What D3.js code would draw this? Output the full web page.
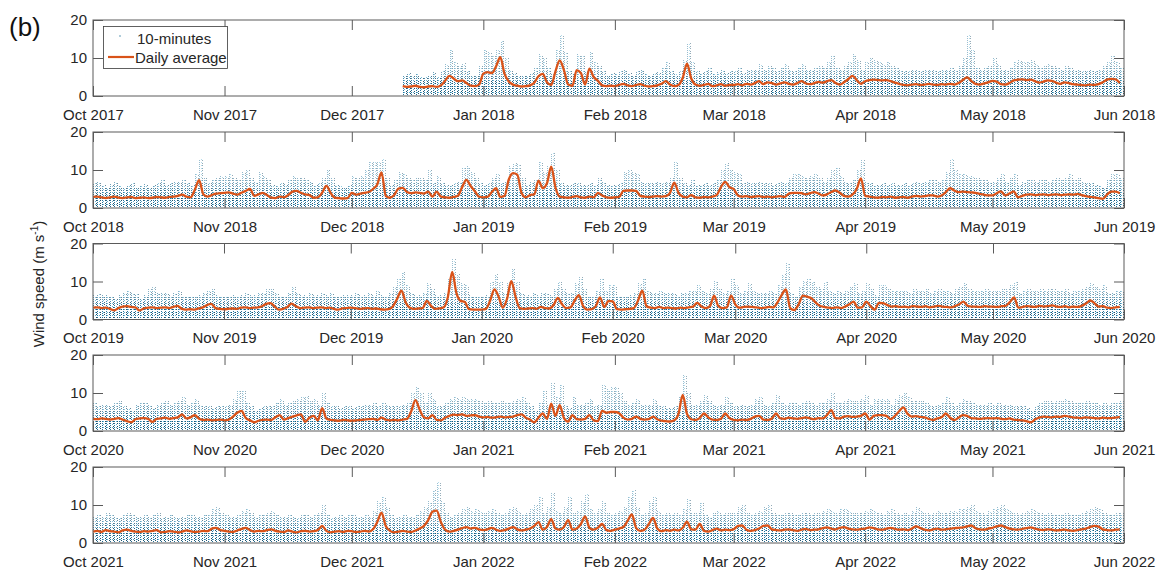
<!DOCTYPE html>
<html>
<head>
<meta charset="utf-8">
<script src="https://cdn.jsdelivr.net/npm/d3@7"></script>
<style>
  body { margin: 0; background: #fff; }
  text { font-family: Arial, "Liberation Sans", sans-serif; fill: #262626; }
</style>
</head>
<body>
<svg id="chart" width="1162" height="571"></svg>
<script>
// Wind speed, Oct–May seasons 2017/18 … 2021/22.
// Daily mean (m/s) and highest 10-minute value of each day (m/s).

const seasonFrom = ["2017-10-01", "2018-10-01", "2019-10-01", "2020-10-01", "2021-10-01"];
const seasonTo   = ["2018-06-01", "2019-06-01", "2020-06-01", "2021-06-01", "2022-06-01"];
const dataFrom   = ["2017-12-13", "2018-10-01", "2019-10-01", "2020-10-01", "2021-10-01"];
const yTicks = [0, 10, 20];

const avg2017 = [
  // Dec 13–31
  2.6,2.4,2.5,2.7,2.4,2.3,2.5,2.6,2.4,2.8,4.0,5.3,4.6,3.9,4.1,3.4,2.7,2.6,3.0,
  // Jan
  5.9,6.3,6.0,7.8,10.2,5.8,3.8,3.0,2.7,2.5,2.6,2.8,3.5,5.2,5.8,3.6,2.9,6.5,9.4,6.8,3.0,2.7,6.8,6.0,3.0,7.2,5.0,4.0,2.8,2.6,2.7,
  // Feb
  2.6,2.9,3.2,2.8,2.6,2.9,3.1,2.7,2.5,2.6,2.8,3.2,3.9,3.0,2.6,2.9,4.8,8.5,4.6,3.0,2.7,2.9,3.2,2.6,2.8,3.1,2.7,2.9,
  // Mar
  2.9,3.1,2.8,3.2,3.0,3.4,3.9,3.1,3.6,3.4,3.0,3.3,3.6,3.2,3.0,3.4,3.9,3.3,3.1,3.4,3.7,3.5,3.9,4.2,3.4,3.0,3.6,4.4,5.3,4.2,3.2,
  // Apr
  3.9,4.2,4.3,4.2,4.1,4.2,3.9,3.5,3.2,2.9,2.8,3.0,3.1,2.9,3.0,3.2,3.0,2.9,3.1,3.0,3.2,3.0,3.4,4.2,4.9,4.0,3.2,3.0,3.3,3.6,
  // May
  4.0,3.8,3.1,3.0,3.4,4.1,4.3,4.4,4.2,4.3,3.9,3.5,3.8,4.1,4.0,3.5,3.2,3.6,3.4,3.1,3.0,2.9,2.8,3.0,2.9,3.1,3.6,4.3,4.5,4.4,3.4
];
const max2017 = [
  5.5,6.0,5.2,5.8,4.9,5.0,5.6,6.2,5.0,6.5,8.5,12.0,9.0,8.0,8.8,6.5,5.4,5.2,8.0,
  12.0,11.5,10.5,12.0,14.5,10.0,7.0,6.0,5.5,5.2,5.4,6.0,7.5,11.0,10.0,7.5,6.0,12.0,16.0,11.5,6.5,6.0,11.0,10.5,6.5,11.5,9.0,8.0,6.5,5.5,6.0,
  5.8,6.5,7.2,6.0,5.5,6.5,7.0,5.8,5.5,6.0,6.2,7.5,9.0,6.5,5.8,6.5,9.5,14.0,9.0,6.5,6.0,6.5,7.5,5.8,6.2,7.0,6.0,6.5,
  6.5,7.5,6.0,7.0,6.8,7.2,8.5,7.0,8.0,7.5,6.5,7.5,8.5,7.0,6.5,7.5,8.5,7.0,6.8,7.5,8.0,7.6,9.0,10.5,7.5,6.8,8.0,9.0,11.0,9.5,7.0,
  9.0,10.0,9.5,9.0,8.5,9.0,8.0,7.5,7.0,6.5,6.5,7.0,7.0,6.5,6.8,7.2,6.8,6.5,7.0,7.0,7.5,7.0,8.0,10.0,16.0,12.0,7.5,7.0,7.5,8.0,
  10.0,8.5,7.0,6.8,7.5,9.0,9.5,9.0,9.0,9.5,8.5,7.5,8.0,8.5,8.0,7.5,7.0,8.0,7.5,7.0,6.8,6.5,6.5,7.0,6.5,7.0,8.0,9.0,10.5,9.0,7.5
];

const avg2018 = [
  // Oct
  2.9,3.0,2.8,2.6,2.8,3.0,2.7,2.6,2.8,2.9,2.6,2.7,2.8,2.6,2.7,2.9,2.8,2.7,2.9,3.0,3.2,3.5,3.0,2.8,4.8,7.3,3.6,3.0,3.4,3.8,3.9,
  // Nov
  4.0,4.1,3.8,3.5,4.0,4.5,5.0,3.2,3.6,4.0,3.4,2.7,2.6,3.0,2.8,3.4,4.3,4.5,4.0,3.6,3.4,2.7,2.8,4.0,5.8,4.0,2.7,2.6,2.5,2.6,
  // Dec
  4.0,3.5,3.8,4.0,4.2,5.0,6.2,9.4,3.2,2.7,3.4,5.1,5.3,4.2,3.9,4.1,4.0,3.8,4.3,3.0,4.3,3.0,2.8,2.7,2.9,3.2,5.5,7.4,5.8,4.4,3.0,
  // Jan
  2.8,2.9,4.2,5.2,2.9,3.2,7.5,9.2,8.8,4.0,2.8,3.4,3.6,7.2,5.2,6.5,10.9,5.4,3.0,2.8,2.7,2.9,3.1,2.8,2.7,3.0,2.8,4.0,3.3,2.8,2.7,
  // Feb
  2.8,2.9,4.5,4.6,4.6,4.5,3.2,3.0,2.9,3.0,3.1,3.0,3.1,4.0,6.7,4.0,3.0,2.8,3.4,2.8,2.7,2.9,2.8,3.0,3.4,5.5,6.9,5.5,
  // Mar
  5.0,3.3,3.0,3.1,2.9,3.0,3.1,2.9,3.0,2.8,3.0,3.1,2.9,3.8,4.0,4.0,3.9,3.6,3.9,4.2,3.8,3.3,3.6,4.2,4.6,4.0,3.2,3.0,3.5,5.0,7.8,
  // Apr
  3.2,3.0,2.8,2.7,2.9,2.8,3.0,2.7,2.8,2.9,2.7,3.0,3.2,3.0,3.1,3.3,3.3,3.0,3.3,4.2,5.2,4.6,4.2,4.3,4.2,4.1,4.0,3.7,3.5,3.3,
  // May
  3.3,3.9,4.4,3.3,3.8,4.4,2.8,3.2,3.5,3.6,3.4,3.5,3.6,3.4,3.5,3.6,3.4,3.5,3.6,3.5,3.7,3.4,3.1,2.9,2.8,2.6,2.4,3.5,4.3,4.3,3.9
];
const max2018 = [
  6.5,7.0,6.0,5.5,6.2,6.8,5.8,5.5,6.0,6.5,5.6,5.8,6.2,5.5,6.0,6.5,7.5,6.0,6.5,6.8,7.0,7.5,6.5,6.0,9.0,13.0,8.0,6.5,7.5,8.0,8.5,
  8.5,9.0,8.0,7.5,9.5,10.0,8.0,7.0,9.5,8.5,7.5,6.0,5.8,6.5,6.2,7.5,8.5,8.0,8.0,7.5,7.2,6.0,6.5,8.0,10.0,8.0,6.0,5.8,5.5,6.0,
  8.5,8.0,8.5,10.0,12.0,12.0,12.5,13.0,8.0,6.0,7.5,9.5,9.0,8.0,7.5,8.0,8.0,7.5,10.0,6.5,8.5,6.5,6.0,6.0,6.5,7.0,10.9,11.0,9.5,8.0,6.5,
  6.0,6.5,8.0,9.0,6.5,7.0,11.0,11.8,11.5,8.0,6.0,7.0,7.5,12.0,9.5,11.0,14.5,10.0,6.5,6.0,6.0,6.5,6.5,6.0,6.0,6.5,6.0,8.0,7.0,6.0,6.0,
  6.0,6.5,9.5,10.0,9.5,9.0,7.0,6.5,6.5,6.5,7.0,6.5,6.8,8.0,12.5,8.0,6.5,6.0,7.5,6.0,6.0,6.5,6.0,6.5,7.5,10.0,11.8,10.0,
  9.5,9.0,6.5,7.0,6.5,6.5,7.0,6.5,6.5,6.0,6.5,7.0,6.5,8.0,9.0,9.0,8.5,8.0,8.5,9.0,8.0,7.0,8.0,10.0,10.5,8.5,7.0,6.5,7.5,10.0,12.6,
  7.0,6.5,6.0,6.0,6.5,6.0,6.5,6.0,6.0,6.5,6.0,6.5,7.0,6.5,7.0,7.5,7.5,7.0,7.5,9.5,13.0,10.0,9.0,9.0,8.5,8.5,8.0,7.5,7.5,7.0,
  7.0,8.0,9.0,7.0,8.0,9.0,6.0,7.0,7.5,7.5,7.0,7.5,7.5,7.0,7.5,8.0,7.5,8.0,9.0,7.5,8.0,7.0,6.5,6.5,6.0,5.8,5.5,7.5,9.0,9.0,8.0
];

const avg2019 = [
  // Oct
  3.1,3.2,3.0,3.1,2.8,2.4,3.0,3.4,3.5,3.3,3.2,2.4,2.9,3.1,3.2,3.0,3.1,3.2,3.0,3.3,3.6,2.8,2.6,2.7,2.6,2.9,3.2,3.8,4.1,3.0,2.8,
  // Nov
  2.7,2.8,2.9,2.8,3.1,3.2,3.0,3.1,3.2,3.5,4.1,4.3,3.4,2.6,2.8,3.3,4.2,3.5,3.0,3.1,3.2,3.0,3.1,3.2,3.0,3.1,2.8,2.6,2.9,3.0,
  // Dec
  3.1,3.0,2.8,2.9,3.0,2.8,2.9,2.7,2.6,2.7,3.5,5.5,7.6,4.5,3.1,2.8,2.9,3.0,4.9,3.6,2.8,2.9,3.2,6.0,12.5,7.0,4.9,4.6,2.7,2.6,2.6,
  // Jan
  2.6,2.8,5.0,7.9,6.0,3.1,5.5,10.1,6.0,3.0,2.8,2.9,3.0,2.8,3.3,3.0,2.9,3.8,5.7,4.0,3.0,3.2,5.0,6.4,3.5,2.6,2.7,3.5,5.8,3.3,4.9,
  // Feb
  4.8,2.7,2.6,2.7,2.8,3.0,5.0,7.6,3.5,3.1,3.0,3.3,3.0,3.1,3.0,2.9,3.1,3.0,3.2,3.4,4.4,3.4,3.0,3.5,6.3,3.5,3.0,3.2,6.3,
  // Mar
  4.0,3.1,3.3,3.4,3.3,3.2,3.0,3.1,3.3,3.2,4.5,6.5,7.9,3.0,2.5,4.0,6.3,6.0,5.6,4.5,3.6,3.3,3.1,3.0,3.2,3.0,3.4,4.0,4.7,3.1,3.2,
  // Apr
  4.7,3.5,2.6,4.4,4.3,3.8,3.4,3.5,3.3,3.4,3.2,3.5,3.4,3.3,3.5,3.2,3.4,3.6,3.4,3.3,3.2,3.5,4.0,4.7,3.6,3.4,3.4,3.3,3.5,3.4,
  // May
  3.4,3.3,3.5,3.6,4.6,5.8,3.1,3.3,3.5,3.4,3.3,3.6,3.4,3.5,3.7,3.4,3.3,3.5,3.2,3.4,3.3,3.6,4.2,5.0,4.3,3.4,3.5,3.1,3.0,3.2,3.3
];
const max2019 = [
  6.5,6.8,6.5,6.5,6.0,5.5,6.5,7.0,7.5,7.0,6.8,5.5,6.5,8.0,8.5,7.0,7.0,7.0,6.5,7.0,7.5,6.0,6.0,6.0,6.2,6.5,7.0,7.5,8.0,6.5,6.0,
  6.0,6.0,6.5,6.0,6.5,7.0,6.5,6.5,7.0,7.0,8.0,8.0,7.0,5.8,6.0,7.0,8.5,7.0,6.5,6.5,7.0,6.5,6.5,7.0,6.5,7.0,6.0,6.0,6.5,6.5,
  6.5,7.0,6.5,6.5,7.0,6.5,7.5,6.5,6.0,7.0,8.5,11.0,12.5,9.0,7.0,6.5,6.5,7.0,9.5,8.0,6.5,6.5,7.0,11.0,16.0,12.0,9.5,9.0,6.5,6.0,6.0,
  6.0,6.5,10.0,12.0,10.0,7.0,10.0,13.5,10.0,7.0,6.5,6.5,7.0,6.5,7.0,7.0,6.5,8.0,10.0,8.0,7.0,7.0,9.5,11.3,8.0,6.0,6.0,7.5,10.7,7.5,9.0,
  9.0,6.0,6.0,6.0,6.5,7.0,9.5,11.0,7.5,7.0,7.0,7.5,7.0,7.0,7.0,6.5,7.0,7.0,7.5,7.5,9.0,7.5,7.0,8.0,10.5,8.0,7.0,7.5,11.0,
  9.0,7.0,7.5,9.5,7.5,7.0,7.0,7.0,7.5,7.0,9.0,12.0,15.0,7.0,6.0,8.5,10.5,11.0,10.0,8.5,8.0,10.0,7.5,7.0,7.5,7.0,7.5,8.5,9.5,7.0,7.5,
  9.5,8.0,6.5,9.0,9.0,8.0,7.5,7.5,7.5,7.5,7.0,8.0,7.5,7.5,8.0,7.0,7.5,8.0,7.5,7.5,7.0,8.0,8.5,9.5,8.0,7.5,7.5,7.5,8.0,7.5,
  7.5,7.5,8.0,8.0,9.0,10.0,7.0,7.5,8.0,7.5,7.5,8.0,7.5,8.0,8.0,7.5,7.5,8.0,7.0,7.5,7.5,8.0,8.5,9.5,8.5,8.0,9.0,7.0,7.0,7.5,7.5
];

const avg2020 = [
  // Oct
  3.2,3.1,3.3,3.2,3.0,3.2,3.4,3.0,2.6,2.3,3.1,3.3,3.4,3.2,2.4,3.2,3.3,3.5,3.2,3.4,3.6,4.4,3.3,3.6,4.2,3.2,2.9,3.0,2.8,2.9,3.0,
  // Nov
  2.8,3.0,3.8,4.8,5.3,3.4,2.8,2.3,2.7,2.9,3.0,2.9,3.6,4.2,3.0,3.4,3.8,4.1,4.4,2.4,3.5,4.0,2.8,6.0,3.3,2.9,2.8,2.7,2.9,2.8,
  // Dec
  2.7,2.8,2.9,3.0,3.1,3.2,2.9,3.5,3.0,2.8,2.9,2.8,3.0,3.2,5.2,8.1,5.6,3.6,3.3,4.2,2.9,2.8,3.5,4.0,4.3,4.2,4.4,4.0,4.1,4.2,3.8,
  // Jan
  3.6,3.7,3.5,3.6,3.8,3.6,3.7,3.8,4.2,4.4,3.5,3.0,2.3,3.5,4.6,3.2,7.2,4.0,6.8,3.4,2.5,4.2,3.1,3.0,3.2,4.2,2.8,2.6,5.3,4.8,5.0,
  // Feb
  5.0,4.7,3.5,3.0,3.2,3.8,3.2,3.0,3.1,3.8,3.1,2.7,2.6,2.5,2.8,4.5,9.5,4.5,3.1,2.9,3.4,4.6,3.6,3.0,2.9,3.2,4.6,3.4,
  // Mar
  2.9,2.8,3.0,2.9,3.2,3.8,4.0,3.0,2.9,3.3,4.6,3.3,3.2,3.5,3.3,3.2,3.4,3.6,3.3,3.1,3.4,3.3,4.2,5.5,3.4,3.3,3.8,3.9,3.7,3.8,4.0,
  // Apr
  4.6,3.0,4.0,4.2,4.2,4.0,3.1,4.0,5.2,6.2,4.5,3.8,3.9,3.7,3.6,3.2,2.9,3.3,3.6,4.6,3.5,2.9,3.5,4.2,4.0,3.4,3.3,3.2,3.3,3.4,
  // May
  3.3,3.4,3.2,3.1,3.3,3.0,2.9,2.8,2.6,2.3,3.0,3.5,3.8,3.7,3.6,3.8,3.7,4.0,3.8,3.6,3.5,3.4,3.6,3.5,3.4,3.3,3.5,3.4,3.4,3.5,3.7
];
const max2020 = [
  7.5,6.5,7.0,7.0,6.5,7.5,8.0,6.5,6.0,5.5,7.0,7.5,7.5,7.0,6.0,7.0,7.5,8.0,7.0,7.5,8.0,9.0,7.0,7.5,8.5,7.0,6.5,6.5,6.0,6.5,6.5,
  6.5,7.0,8.5,10.8,10.5,7.5,6.5,5.5,6.0,6.5,6.5,6.5,7.5,8.5,7.0,7.5,8.0,8.5,9.0,9.3,8.0,8.5,7.0,10.2,7.5,6.5,6.5,6.0,6.5,6.5,
  6.0,6.5,6.5,7.0,7.0,7.5,6.5,7.5,7.0,6.5,6.5,6.5,7.0,7.5,10.0,11.7,10.0,7.5,10.0,8.5,6.5,6.5,7.5,8.5,9.0,8.5,9.0,8.5,8.5,8.5,8.0,
  7.5,8.0,7.5,7.5,8.0,7.5,7.5,8.0,8.5,9.0,7.5,6.5,5.5,7.5,10.5,7.0,12.6,9.0,12.5,7.0,6.0,9.0,7.0,7.0,7.5,8.5,6.5,7.0,12.0,11.0,11.5,
  11.5,10.0,8.0,7.0,7.5,8.5,7.0,7.0,7.0,8.5,7.0,6.5,6.0,6.0,6.5,9.0,14.7,10.0,7.0,7.0,8.0,9.5,8.0,7.0,6.5,7.0,9.0,7.5,
  6.5,6.5,7.0,6.5,7.0,8.5,9.0,7.0,6.5,7.5,9.5,7.5,7.0,7.5,7.5,7.0,7.5,8.0,7.5,7.0,7.5,7.5,8.5,10.0,7.5,7.5,8.0,8.5,8.0,8.0,8.5,
  9.5,7.0,8.5,8.5,8.5,8.5,7.0,8.5,9.5,10.0,9.0,8.0,8.0,8.0,7.5,7.0,6.5,7.0,7.5,9.0,7.5,6.5,7.5,8.5,8.0,7.5,7.0,7.0,7.0,7.5,
  7.0,7.5,7.0,7.0,7.0,6.5,6.5,6.5,6.0,5.5,6.5,7.5,8.0,8.0,7.5,8.0,8.0,8.5,8.0,7.5,7.5,7.5,8.0,7.5,7.5,7.0,7.5,7.0,7.5,7.5,8.0
];

const avg2021 = [
  // Oct
  3.0,3.2,2.9,3.4,3.1,3.0,2.8,3.3,3.5,3.2,3.0,2.9,3.1,3.0,3.2,3.4,2.8,2.9,3.1,3.0,2.8,3.0,3.3,3.1,2.9,3.0,3.2,3.1,3.8,4.0,3.4,
  // Nov
  3.2,3.0,2.9,3.3,3.7,4.0,3.4,3.0,3.2,3.1,3.4,3.6,3.2,3.0,2.9,3.3,3.0,2.8,3.1,3.2,3.0,3.1,3.4,4.5,3.2,2.8,3.0,3.1,2.9,3.2,
  // Dec
  3.1,2.9,3.0,3.2,3.0,3.6,5.5,8.0,4.5,3.2,2.8,3.0,3.2,3.0,2.9,3.3,3.8,4.5,6.0,8.2,8.5,5.5,3.5,3.0,3.2,3.5,3.9,4.2,3.8,4.0,3.6,
  // Jan
  3.4,3.6,4.0,3.5,3.2,3.4,3.8,4.2,3.6,3.3,3.5,3.8,4.5,5.5,3.5,4.2,6.3,3.8,3.5,4.2,6.0,3.5,3.8,5.0,7.0,4.0,3.5,4.0,5.0,3.4,3.2,
  // Feb
  3.5,3.8,4.2,5.8,7.5,4.0,3.2,3.5,5.0,6.6,3.8,3.1,3.4,3.2,3.5,3.3,4.0,5.6,3.6,3.5,5.0,3.2,3.0,3.4,3.8,3.3,3.5,3.4,
  // Mar
  3.6,4.5,4.6,3.5,3.2,3.4,3.8,4.5,4.6,3.6,3.4,3.3,3.5,3.6,3.4,3.2,3.5,3.7,3.4,3.5,3.6,3.9,4.1,3.8,3.6,4.0,4.2,3.8,3.6,3.5,3.7,
  // Apr
  3.8,4.1,3.9,3.6,3.5,3.8,4.0,3.7,3.5,3.6,3.4,3.8,4.4,3.9,3.5,3.3,3.6,3.8,3.5,3.6,3.8,3.9,4.0,4.1,4.4,4.6,3.9,3.6,3.5,3.8,
  // May
  4.0,4.4,4.6,4.2,3.8,3.6,3.5,3.7,3.9,4.1,3.8,3.5,3.4,3.6,3.5,3.3,3.4,3.5,3.3,3.2,3.4,3.6,3.8,4.2,4.5,4.3,3.6,3.4,3.3,3.5,3.6
];
const max2021 = [
  7.0,7.5,7.0,8.0,7.5,7.0,6.5,7.5,8.0,7.5,7.0,7.0,7.5,7.0,7.5,8.0,6.5,7.0,7.5,7.0,6.5,7.0,7.5,7.5,7.0,7.0,7.5,7.5,9.0,9.5,8.0,
  7.5,7.0,7.0,7.5,8.5,9.0,8.0,7.0,7.5,7.5,8.0,8.5,7.5,7.0,7.0,7.5,7.0,6.5,7.5,7.5,7.0,7.5,8.0,10.0,7.5,6.5,7.0,7.5,7.0,7.5,
  7.5,7.0,7.0,7.5,7.0,8.5,11.0,12.5,9.5,7.5,6.5,7.0,7.5,7.0,7.0,7.5,8.5,9.5,11.0,14.0,16.0,11.0,8.0,7.0,7.5,8.0,9.0,9.5,8.5,9.0,8.5,
  8.0,8.5,9.0,8.0,7.5,8.0,9.0,9.5,8.5,7.5,8.0,9.0,10.0,12.0,8.0,9.5,13.5,8.5,8.0,9.5,12.0,8.0,8.5,11.0,13.0,9.0,8.0,9.0,11.0,8.0,7.5,
  8.0,8.5,9.5,12.0,14.0,9.5,7.5,8.0,11.0,12.5,8.5,7.5,8.0,7.5,8.0,7.5,9.0,11.5,8.0,8.0,10.5,7.5,7.0,8.0,8.5,7.5,8.0,8.0,
  8.0,9.5,10.0,8.0,7.5,8.0,8.5,9.5,10.0,8.0,7.5,7.5,8.0,8.0,7.5,7.5,8.0,8.0,7.5,8.0,8.0,8.5,9.0,8.5,8.0,9.0,9.0,8.5,8.0,8.0,8.0,
  8.5,9.0,8.5,8.0,7.5,8.5,9.0,8.0,7.5,8.0,7.5,8.5,9.5,8.5,8.0,7.5,8.0,8.5,8.0,8.0,8.5,8.5,9.0,9.0,9.5,10.0,8.5,8.0,7.5,8.5,
  9.0,9.5,10.0,9.0,8.5,8.0,7.5,8.0,8.5,9.0,8.5,8.0,7.5,8.0,7.5,7.5,7.5,8.0,7.5,7.5,7.5,8.0,8.5,9.0,9.5,9.0,8.0,7.5,7.5,8.0,8.0
];

const dailyAvg = [avg2017, avg2018, avg2019, avg2020, avg2021];
const dailyMax = [max2017, max2018, max2019, max2020, max2021];

// ---- layout ----
const plotLeft = 93, plotRight = 1124;
const panelTop = [20, 132, 243.5, 355, 467];
const panelHeight = 76;
const lineColor = "#D95319";
const dotColors = ["#23729a", "#5cb4d6", "#1a4d68"];
const axisColor = "#5a5a5a";
const parse = d3.utcParse("%Y-%m-%d");
const fmt = d3.utcFormat("%b %Y");

const svg = d3.select("#chart");
const defs = svg.append("defs");

dailyAvg.forEach((avg, k) => {
  const mx = dailyMax[k];
  const top = panelTop[k], bottom = top + panelHeight;
  const x = d3.scaleUtc().domain([parse(seasonFrom[k]), parse(seasonTo[k])]).range([plotLeft, plotRight]);
  const y = d3.scaleLinear().domain([0, 20]).range([bottom, top]);
  const start = parse(dataFrom[k]);
  const days = avg.map((_, i) => d3.utcDay.offset(start, i));

  // density fade for the 10-minute scatter: dense near the ground, sparse at gusts
  const grad = defs.append("linearGradient").attr("id", "fade" + k)
    .attr("gradientUnits", "userSpaceOnUse")
    .attr("x1", 0).attr("x2", 0).attr("y1", y(0)).attr("y2", y(20));
  grad.append("stop").attr("offset", 0).attr("stop-color", "#fff");
  grad.append("stop").attr("offset", 0.18).attr("stop-color", "#f4f4f4");
  grad.append("stop").attr("offset", 0.28).attr("stop-color", "#b0b0b0");
  grad.append("stop").attr("offset", 0.4).attr("stop-color", "#7c7c7c");
  grad.append("stop").attr("offset", 1).attr("stop-color", "#6c6c6c");
  const mask = defs.append("mask").attr("id", "mask" + k)
    .attr("maskUnits", "userSpaceOnUse")
    .attr("x", plotLeft).attr("y", top).attr("width", plotRight - plotLeft).attr("height", panelHeight);
  mask.append("rect").attr("x", plotLeft).attr("y", top)
    .attr("width", plotRight - plotLeft).attr("height", panelHeight)
    .attr("fill", `url(#fade${k})`);

  const g = svg.append("g");

  // 10-minute values: each day spans from calm to its highest 10-minute reading
  const scatter = g.append("g").attr("mask", `url(#mask${k})`).attr("shape-rendering", "crispEdges");
  const dash = ["1 1", "1 2", "1 1.5"];
  dotColors.forEach((c, j) => {
    scatter.append("g")
      .attr("stroke", c)
      .attr("stroke-width", 1)
      .attr("stroke-dasharray", dash[j])
      .attr("stroke-dashoffset", j)
      .selectAll("line")
      .data(days)
      .join("line")
      .attr("x1", (d) => {
        const x0 = x(d), x1 = x(d3.utcDay.offset(d, 1));
        return x0 + (j + 0.5) * (x1 - x0) / 3;
      })
      .attr("x2", (d) => {
        const x0 = x(d), x1 = x(d3.utcDay.offset(d, 1));
        return x0 + (j + 0.5) * (x1 - x0) / 3;
      })
      .attr("y1", y(0.3))
      .attr("y2", (d, i) => y(mx[i]));
  });

  // daily average
  g.append("path")
    .datum(avg)
    .attr("fill", "none")
    .attr("stroke", lineColor)
    .attr("stroke-width", 2.3)
    .attr("stroke-linejoin", "round")
    .attr("d", d3.line().curve(d3.curveMonotoneX).x((v, i) => x(days[i])).y((v) => y(v)));

  // axes
  const months = d3.utcMonth.range(parse(seasonFrom[k]), d3.utcDay.offset(parse(seasonTo[k]), 1));
  const ax = svg.append("g").attr("color", axisColor);
  ax.append("g").attr("transform", `translate(0,${bottom})`)
    .call(d3.axisBottom(x).tickValues(months).tickFormat(fmt).tickSizeInner(-10).tickSizeOuter(0).tickPadding(13))
    .call((s) => s.select(".domain").remove());
  ax.append("g").attr("transform", `translate(0,${top})`)
    .call(d3.axisTop(x).tickValues(months).tickFormat("").tickSizeInner(-10).tickSizeOuter(0))
    .call((s) => s.select(".domain").remove());
  ax.append("g").attr("transform", `translate(${plotLeft},0)`)
    .call(d3.axisLeft(y).tickValues(yTicks).tickFormat(d3.format("d")).tickSizeInner(-10).tickSizeOuter(0).tickPadding(6))
    .call((s) => s.select(".domain").remove());
  ax.append("g").attr("transform", `translate(${plotRight},0)`)
    .call(d3.axisRight(y).tickValues(yTicks).tickFormat("").tickSizeInner(-10).tickSizeOuter(0))
    .call((s) => s.select(".domain").remove());
  ax.selectAll("text").attr("font-size", 15).attr("font-family", "Arial, 'Liberation Sans', sans-serif").style("fill", "#262626");
  ax.append("rect")
    .attr("x", plotLeft).attr("y", top)
    .attr("width", plotRight - plotLeft).attr("height", panelHeight)
    .attr("fill", "none").attr("stroke", axisColor).attr("stroke-width", 1);
});

// y-axis title
svg.append("text")
  .attr("transform", "translate(44,284) rotate(-90)")
  .attr("text-anchor", "middle")
  .attr("font-size", 15)
  .call((t) => {
    t.append("tspan").text("Wind speed (m s");
    t.append("tspan").attr("font-size", 10).attr("dy", -6).text("-1");
    t.append("tspan").attr("dy", 6).text(")");
  });

// panel letter
svg.append("text").attr("x", 9).attr("y", 36).attr("font-size", 26).style("fill", "#111").text("(b)");

// legend
const lg = svg.append("g");
lg.append("rect").attr("x", 103.5).attr("y", 26.5).attr("width", 124).attr("height", 42)
  .attr("fill", "#fff").attr("stroke", "#3a3a3a").attr("stroke-width", 0.8);
lg.append("circle").attr("cx", 120).attr("cy", 36).attr("r", 0.7).attr("fill", dotColors[0]);
lg.append("text").attr("x", 137).attr("y", 43.5).attr("font-size", 15).text("10-minutes");
lg.append("line").attr("x1", 108).attr("x2", 134).attr("y1", 57).attr("y2", 57)
  .attr("stroke", lineColor).attr("stroke-width", 2.2);
lg.append("text").attr("x", 135).attr("y", 62.5).attr("font-size", 15).text("Daily average");
</script>
</body>
</html>
